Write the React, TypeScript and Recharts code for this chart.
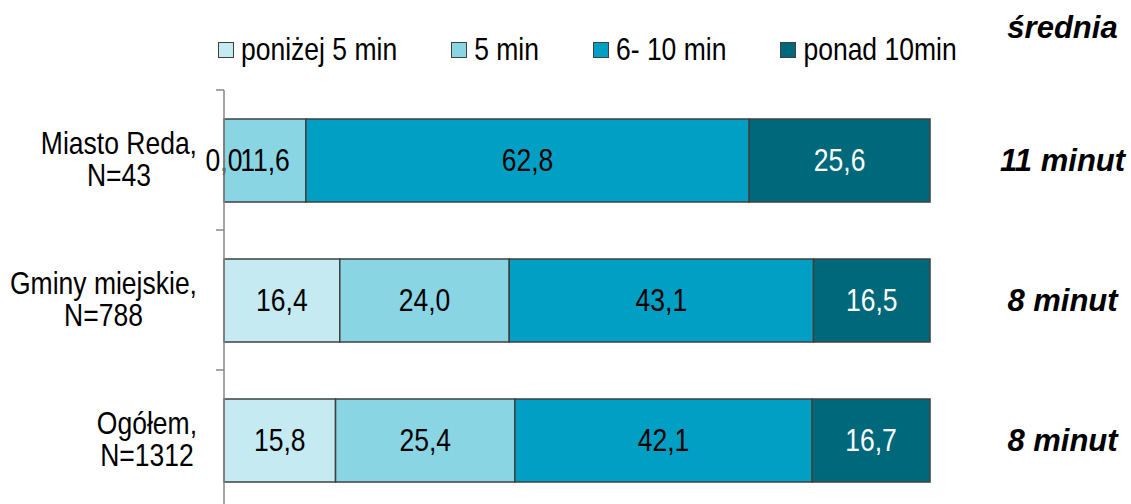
import { BarChart, Bar, XAxis, YAxis } from "recharts"

// categories and values
const categories = ["Miasto Reda,|N=43", "Gminy miejskie,|N=788", "Ogółem,|N=1312"]
const below5 = [0.0, 16.4, 15.8]
const five = [11.6, 24.0, 25.4]
const six10 = [62.8, 43.1, 42.1]
const over10 = [25.6, 16.5, 16.7]
const averages = ["11 minut", "8 minut", "8 minut"]

const seriesNames = ["poniżej 5 min", "5 min", "6- 10 min", "ponad 10min"]
const colors = ["#c6eaf2", "#8ad5e3", "#009fc3", "#00687b"]
const labelColors = ["#000", "#000", "#000", "#fff"]
const keys = ["below5", "five", "six10", "over10"]

const data = categories.map((name, i) => ({
  name,
  avg: averages[i],
  below5: below5[i],
  five: five[i],
  six10: six10[i],
  over10: over10[i],
}))

// no narrow font installed, so regular Liberation Sans stretched vertically
const FONT = "'Liberation Sans', Arial, sans-serif"
const FS = 26.5
const STRETCH = 1.2

const W = 1131
const H = 530
const TOP = 90
const BOTTOM = 20
const LEFT_W = 224
const RIGHT_W = 195
const RIGHT_M = 6
const BAND = (H - TOP - BOTTOM) / categories.length

const fmt = (v: any) => Number(v).toFixed(1).replace(".", ",")

function LeftTick(props: any) {
  const { y, payload, index } = props
  const lines = String(payload.value).split("|")
  return (
    <g>
      <line x1={LEFT_W - 8} x2={LEFT_W} y1={y - BAND / 2} y2={y - BAND / 2} stroke="#888" strokeWidth={1.5} />
      {index === categories.length - 1 && (
        <line x1={LEFT_W - 8} x2={LEFT_W} y1={y + BAND / 2} y2={y + BAND / 2} stroke="#888" strokeWidth={1.5} />
      )}
      <foreignObject x={0} y={y - 45} width={197} height={90}>
        <div
          style={{
            display: "flex",
            justifyContent: "flex-end",
            alignItems: "center",
            height: 90,
            fontFamily: FONT,
            fontSize: FS,
            lineHeight: "27px",
            color: "#000",
          }}
        >
          <div style={{ textAlign: "center", whiteSpace: "nowrap", transform: `scaleY(${STRETCH})` }}>
            {lines.map((l, i) => (
              <div key={i}>{l}</div>
            ))}
          </div>
        </div>
      </foreignObject>
    </g>
  )
}

function RightTick(props: any) {
  const { y, payload } = props
  const item = data.find((d) => d.name === payload.value)
  return (
    <text
      x={W - RIGHT_M - RIGHT_W / 2 + 35}
      y={y}
      textAnchor="middle"
      dominantBaseline="central"
      fontFamily={FONT}
      fontSize={31}
      fontWeight="bold"
      fontStyle="italic"
      fill="#000"
    >
      {item ? item.avg : ""}
    </text>
  )
}

// label-only shape, drawn in a second stack on top of all the bars
function makeLabel(key: string, i: number) {
  return (props: any) => {
    const { x, y, width, height, payload } = props
    return (
      <text
        transform={`translate(${x + width / 2}, ${y + height / 2}) scale(1, ${STRETCH})`}
        textAnchor="middle"
        dominantBaseline="central"
        fontFamily={FONT}
        fontSize={FS}
        fill={labelColors[i]}
      >
        {fmt(payload[key])}
      </text>
    )
  }
}

export default function App() {
  return (
    <div style={{ position: "absolute", top: 0, left: 0, width: W, height: 504, overflow: "hidden", background: "#fff" }}>
      <div
        style={{
          position: "absolute",
          top: 34,
          left: 218,
          display: "flex",
          alignItems: "center",
          fontFamily: FONT,
          fontSize: FS,
          color: "#000",
          whiteSpace: "nowrap",
        }}
      >
        {seriesNames.map((n, i) => (
          <div key={n} style={{ display: "flex", alignItems: "center", marginRight: 54 }}>
            <span
              style={{
                display: "inline-block",
                width: 14,
                height: 14,
                background: colors[i],
                border: "1.5px solid #404040",
                marginRight: 7,
              }}
            />
            <span style={{ display: "inline-block", transform: `scaleY(${STRETCH})` }}>{n}</span>
          </div>
        ))}
      </div>
      <div
        style={{
          position: "absolute",
          top: 10,
          left: 1000,
          width: 125,
          textAlign: "center",
          fontFamily: FONT,
          fontSize: 31,
          fontWeight: "bold",
          fontStyle: "italic",
          color: "#000",
        }}
      >
        średnia
      </div>
      <BarChart
        width={W}
        height={H}
        data={data}
        layout="vertical"
        margin={{ top: TOP, right: RIGHT_M, bottom: BOTTOM, left: 0 }}
        barSize={83}
      >
        <XAxis type="number" domain={[0, 100]} hide />
        <YAxis
          yAxisId="left"
          type="category"
          dataKey="name"
          width={LEFT_W}
          axisLine={{ stroke: "#888", strokeWidth: 1.5 }}
          tickLine={false}
          tick={<LeftTick />}
          interval={0}
        />
        <YAxis
          yAxisId="right"
          orientation="right"
          type="category"
          dataKey="name"
          width={RIGHT_W}
          axisLine={false}
          tickLine={false}
          tick={<RightTick />}
          interval={0}
        />
        {keys.map((k, i) => (
          <Bar
            key={k}
            yAxisId="left"
            dataKey={k}
            stackId="a"
            fill={colors[i]}
            stroke="#404040"
            strokeWidth={1.5}
            isAnimationActive={false}
          />
        ))}
        {keys.map((k, i) => (
          <Bar
            key={"lbl-" + k}
            yAxisId="right"
            dataKey={k}
            stackId="b"
            fill="none"
            isAnimationActive={false}
            legendType="none"
            shape={makeLabel(k, i)}
          />
        ))}
      </BarChart>
    </div>
  )
}
